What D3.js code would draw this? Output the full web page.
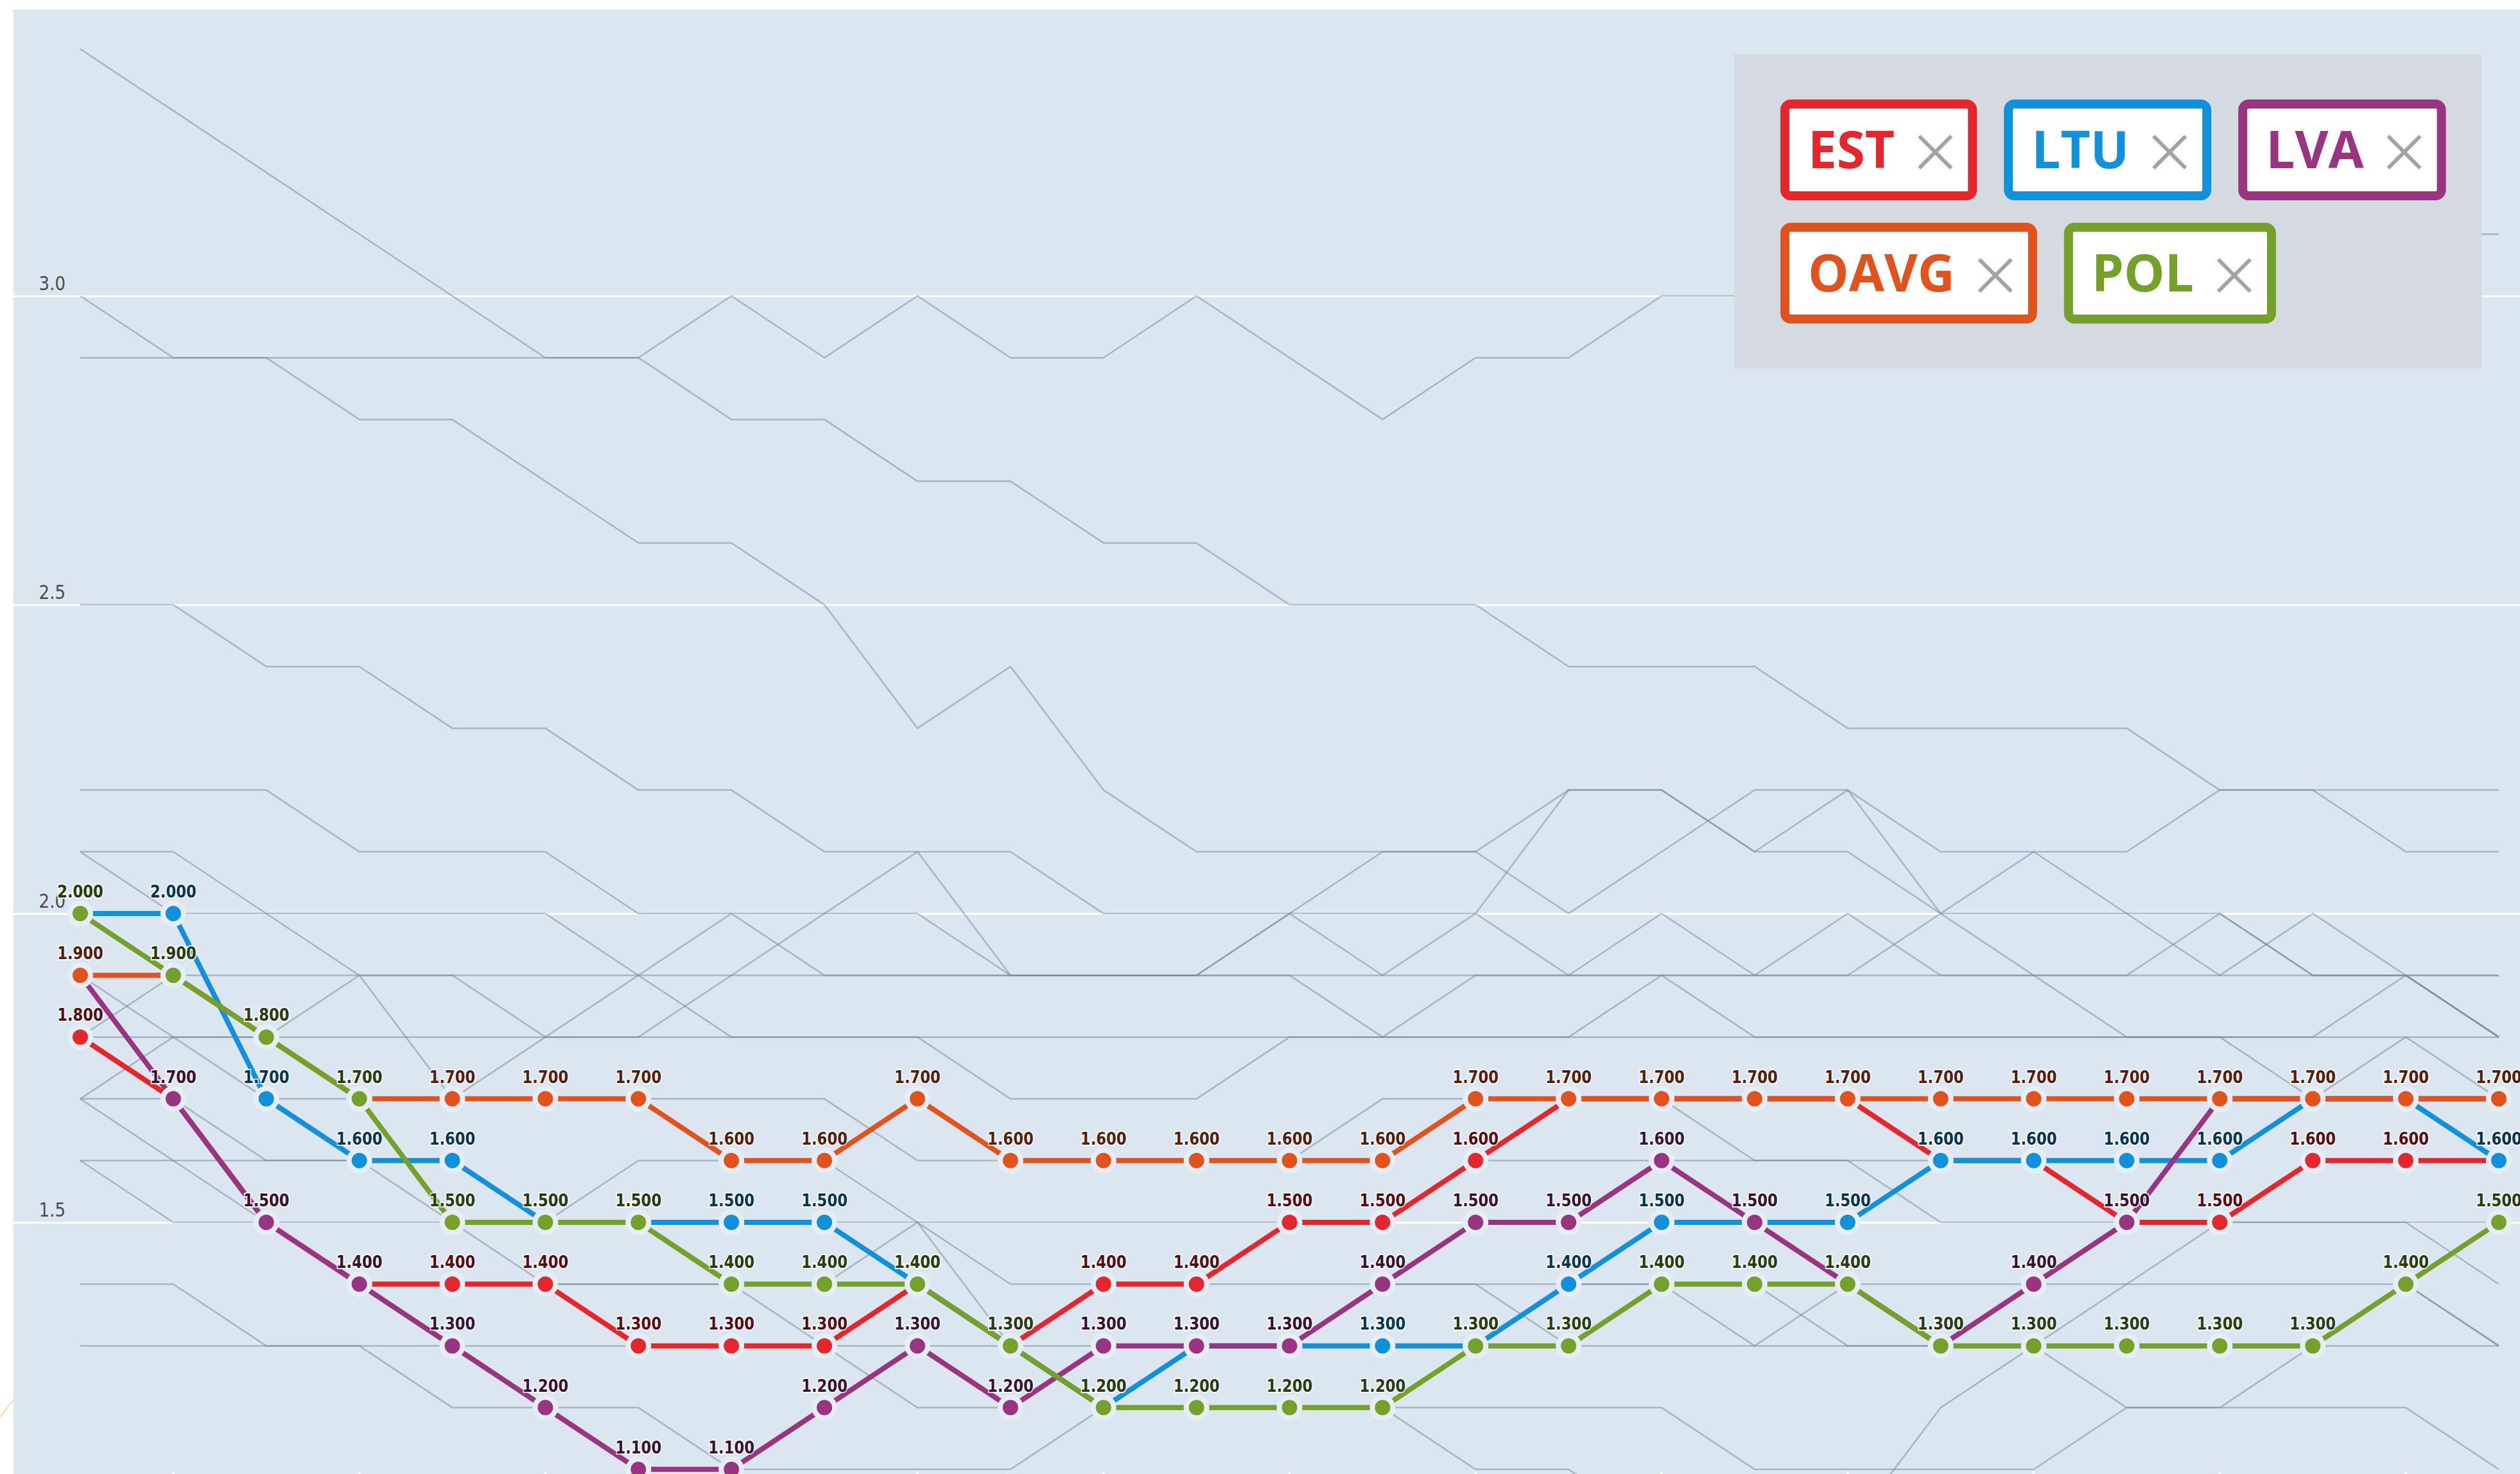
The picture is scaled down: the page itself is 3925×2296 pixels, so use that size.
<!DOCTYPE html>
<html>
<head>
<meta charset="utf-8">
<script src="https://cdn.jsdelivr.net/npm/d3@7"></script>
<style>
  html, body { margin: 0; padding: 0; background: #fff; }
  svg { display: block; }
</style>
</head>
<body>
<div id="chart"></div>
<script>
var W = 3925, H = 2296;

// 27 periods; the x axis labels fall below the visible frame
var periods = d3.range(27);
var yTicks = [1.5, 2.0, 2.5, 3.0];

var names = ["EST", "LTU", "LVA", "OAVG", "POL"];
var colors = ["#e5262d", "#1190db", "#993481", "#e1521d", "#73a12a"];

var EST  = [1.8,1.7,1.5,1.4,1.4,1.4,1.3,1.3,1.3,1.4,1.3,1.4,1.4,1.5,1.5,1.6,1.7,1.7,1.7,1.7,1.6,1.6,1.5,1.5,1.6,1.6,1.6];
var LTU  = [2.0,2.0,1.7,1.6,1.6,1.5,1.5,1.5,1.5,1.4,1.3,1.2,1.3,1.3,1.3,1.3,1.4,1.5,1.5,1.5,1.6,1.6,1.6,1.6,1.7,1.7,1.6];
var LVA  = [1.9,1.7,1.5,1.4,1.3,1.2,1.1,1.1,1.2,1.3,1.2,1.3,1.3,1.3,1.4,1.5,1.5,1.6,1.5,1.4,1.3,1.4,1.5,1.7,1.7,1.7,1.7];
var OAVG = [1.9,1.9,1.8,1.7,1.7,1.7,1.7,1.6,1.6,1.7,1.6,1.6,1.6,1.6,1.6,1.7,1.7,1.7,1.7,1.7,1.7,1.7,1.7,1.7,1.7,1.7,1.7];
var POL  = [2.0,1.9,1.8,1.7,1.5,1.5,1.5,1.4,1.4,1.4,1.3,1.2,1.2,1.2,1.2,1.3,1.3,1.4,1.4,1.4,1.3,1.3,1.3,1.3,1.3,1.4,1.5];

// other countries, drawn in grey behind the selection
var others = [
  [3.4,3.3,3.2,3.1,3.0,2.9,2.9,3.0,2.9,3.0,2.9,2.9,3.0,2.9,2.8,2.9,2.9,3.0,3.0,3.0,3.0,3.0,3.1,3.1,3.1,3.1,3.1],
  [3.0,2.9,2.9,2.8,2.8,2.7,2.6,2.6,2.5,2.3,2.4,2.2,2.1,2.1,2.1,2.1,2.2,2.2,2.1,2.1,2.0,2.0,2.0,2.0,1.9,1.9,1.9],
  [2.9,2.9,2.9,2.9,2.9,2.9,2.9,2.8,2.8,2.7,2.7,2.6,2.6,2.5,2.5,2.5,2.4,2.4,2.4,2.3,2.3,2.3,2.3,2.2,2.2,2.2,2.2],
  [2.5,2.5,2.4,2.4,2.3,2.3,2.2,2.2,2.1,2.1,2.1,2.0,2.0,2.0,2.1,2.1,2.0,2.1,2.2,2.2,2.0,2.1,2.0,1.9,2.0,1.9,1.8],
  [2.2,2.2,2.2,2.1,2.1,2.1,2.0,2.0,2.0,2.0,1.9,1.9,1.9,2.0,2.0,2.0,2.2,2.2,2.1,2.2,2.1,2.1,2.1,2.2,2.2,2.1,2.1],
  [2.1,2.1,2.0,1.9,1.9,1.8,1.8,1.9,2.0,2.1,1.9,1.9,1.9,1.9,1.8,1.9,1.9,1.9,1.9,1.9,1.9,1.9,1.9,1.9,1.9,1.9,1.8],
  [2.1,2.0,2.0,2.0,2.0,2.0,1.9,2.0,1.9,1.9,1.9,1.9,1.9,2.0,1.9,2.0,1.9,2.0,1.9,2.0,1.9,1.9,1.9,2.0,1.9,1.9,1.9],
  [1.9,1.8,1.7,1.7,1.7,1.8,1.8,1.8,1.8,1.8,1.7,1.7,1.7,1.8,1.8,1.8,1.8,1.9,1.8,1.8,1.8,1.8,1.8,1.8,1.7,1.8,1.7],
  [1.8,1.8,1.8,1.8,1.8,1.8,1.9,1.8,1.8,1.8,1.8,1.8,1.8,1.8,1.8,1.8,1.8,1.8,1.8,1.8,1.8,1.8,1.8,1.8,1.8,1.8,1.8],
  [1.8,1.9,1.9,1.9,1.9,1.9,1.9,1.9,1.9,1.9,1.9,1.9,1.9,1.9,1.9,1.9,1.9,1.9,1.9,1.9,2.0,1.9,1.8,1.8,1.8,1.9,1.8],
  [1.7,1.8,1.8,1.9,1.7,1.7,1.7,1.7,1.7,1.6,1.6,1.6,1.6,1.6,1.7,1.7,1.7,1.7,1.6,1.6,1.6,1.6,1.5,1.5,1.5,1.5,1.5],
  [1.7,1.7,1.6,1.6,1.6,1.5,1.5,1.5,1.5,1.5,1.4,1.4,1.4,1.4,1.4,1.4,1.4,1.4,1.4,1.3,1.3,1.3,1.3,1.3,1.3,1.4,1.3],
  [1.7,1.6,1.6,1.6,1.5,1.5,1.6,1.6,1.6,1.5,1.5,1.5,1.5,1.5,1.5,1.6,1.6,1.6,1.6,1.6,1.5,1.5,1.5,1.5,1.6,1.6,1.6],
  [1.6,1.6,1.5,1.5,1.5,1.4,1.4,1.4,1.3,1.3,1.3,1.2,1.2,1.2,1.2,1.2,1.2,1.2,1.1,1.1,1.1,1.1,1.2,1.2,1.2,1.2,1.1],
  [1.6,1.5,1.5,1.4,1.4,1.4,1.4,1.4,1.4,1.5,1.3,1.3,1.3,1.3,1.4,1.4,1.3,1.3,1.3,1.4,1.4,1.4,1.4,1.5,1.5,1.5,1.4],
  [1.4,1.4,1.3,1.3,1.2,1.2,1.2,1.1,1.1,1.1,1.1,1.2,1.2,1.2,1.2,1.1,1.1,1.0,1.0,1.0,1.2,1.3,1.2,1.2,1.3,1.3,1.3],
  [1.3,1.3,1.3,1.3,1.3,1.3,1.3,1.3,1.3,1.2,1.2,1.3,1.3,1.3,1.3,1.3,1.4,1.4,1.3,1.3,1.3,1.3,1.4,1.4,1.4,1.4,1.3]
];

var series = names.map(function(n, k) {
  return { name: n, color: colors[k], values: [EST, LTU, LVA, OAVG, POL][k] };
});

var svg = d3.select("#chart").append("svg")
    .attr("width", W)
    .attr("height", H);

// faint line from the page behind the chart panel
svg.append("line")
    .attr("x1", 0).attr("y1", 2208).attr("x2", 21).attr("y2", 2180)
    .attr("stroke", "#f3dca6").attr("stroke-width", 2);

svg.append("rect")
    .attr("x", 21).attr("y", 15)
    .attr("width", W - 21).attr("height", H - 15)
    .attr("fill", "#dce6f0");

var x = d3.scalePoint().domain(periods).range([125, 3892]);
var y = d3.scaleLinear().domain([1, 3]).range([2385, 461]);

// horizontal grid + y labels
var yAxis = svg.append("g")
    .attr("transform", "translate(21,0)")
    .call(d3.axisRight(y).tickValues(yTicks).tickSize(W).tickFormat(d3.format(".1f")));
yAxis.select(".domain").remove();
yAxis.selectAll(".tick line").attr("stroke", "#ffffff").attr("stroke-width", 3);
yAxis.selectAll(".tick text")
    .attr("x", 81 / 0.84)
    .attr("dy", -10)
    .attr("text-anchor", "end")
    .attr("transform", "scale(0.84,1)")
    .attr("fill", "#4b4b4b")
    .attr("font-family", "DejaVu Sans")
    .attr("font-size", 31);

// bottom ticks of the (cropped) x axis
svg.append("g").selectAll("line")
    .data(periods.filter(function(d) { return d % 2 === 1; }))
    .enter().append("line")
    .attr("x1", function(d) { return x(d); })
    .attr("x2", function(d) { return x(d); })
    .attr("y1", H - 4).attr("y2", H)
    .attr("stroke", "#ffffff").attr("stroke-width", 3);

var line = d3.line()
    .defined(function(d) { return d != null; })
    .x(function(d, i) { return x(i); })
    .y(function(d) { return y(d); });

svg.append("g").selectAll("path")
    .data(others)
    .enter().append("path")
    .attr("d", line)
    .attr("fill", "none")
    .attr("stroke", "#728697")
    .attr("stroke-opacity", 0.5)
    .attr("stroke-width", 2.5)
    .attr("stroke-linejoin", "round");

var groups = svg.append("g").selectAll("g")
    .data(series)
    .enter().append("g");

groups.append("path")
    .attr("d", function(s) { return line(s.values); })
    .attr("fill", "none")
    .attr("stroke", function(s) { return s.color; })
    .attr("stroke-width", 8)
    .attr("stroke-linejoin", "round");

groups.selectAll("circle")
    .data(function(s) { return s.values.map(function(v, i) { return { i: i, v: v, c: s.color }; }); })
    .enter().append("circle")
    .attr("cx", function(d) { return x(d.i); })
    .attr("cy", function(d) { return y(d.v); })
    .attr("r", 16)
    .attr("fill", function(d) { return d.c; })
    .attr("stroke", "#e6edf4")
    .attr("stroke-width", 8);

var fmt = d3.format(".3f");
var labels = svg.append("g");
series.forEach(function(s) {
  labels.selectAll(null)
    .data(s.values.map(function(v, i) { return { i: i, v: v }; }))
    .enter().append("text")
    .attr("transform", function(d) { return "translate(" + x(d.i) + "," + (y(d.v) - 25) + ") scale(0.84,1)"; })
    .attr("text-anchor", "middle")
    .attr("font-family", "DejaVu Sans")
    .attr("font-weight", "bold")
    .attr("font-size", 27)
    .attr("fill", d3.color(s.color).darker(2.8))
    .attr("stroke", "rgba(255,255,255,0.7)")
    .attr("stroke-width", 4)
    .attr("paint-order", "stroke")
    .text(function(d) { return fmt(d.v); });
});

// legend
var legend = svg.append("g");
legend.append("rect")
    .attr("x", 2701).attr("y", 84)
    .attr("width", 1164).attr("height", 490)
    .attr("fill", "#d5dae0");

var lx = 2773, ly = 155;
series.forEach(function(s, k) {
  if (k === 3) { lx = 2773; ly = 347; }
  var g = legend.append("g");
  var box = g.append("rect");
  var t = g.append("text")
      .attr("x", lx + 43).attr("y", ly + 107)
      .attr("font-family", "Open Sans")
      .attr("font-weight", 700)
      .attr("font-size", 80)
      .attr("fill", s.color)
      .text(s.name);
  var tw = t.node().getComputedTextLength();
  var cx = lx + 43 + tw + 38;
  g.append("path")
      .attr("d", "M" + cx + "," + (ly + 57) + "L" + (cx + 50) + "," + (ly + 107) +
                 "M" + (cx + 50) + "," + (ly + 57) + "L" + cx + "," + (ly + 107))
      .attr("stroke", "#a3a3a3")
      .attr("stroke-width", 6);
  var w = cx + 50 + 40 - lx;
  box.attr("x", lx + 7).attr("y", ly + 7)
      .attr("width", w - 14).attr("height", 143)
      .attr("rx", 9)
      .attr("fill", "#ffffff")
      .attr("stroke", s.color)
      .attr("stroke-width", 14);
  lx += w + 42;
});
</script>
</body>
</html>
